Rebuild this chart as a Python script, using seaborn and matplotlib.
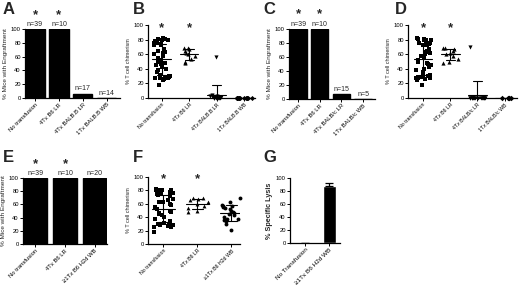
import warnings
warnings.filterwarnings("ignore")
import numpy as np
import pandas as pd
import matplotlib
matplotlib.use("Agg")
import matplotlib.pyplot as plt
import seaborn as sns

sns.set_style("ticks")
plt.rcParams['font.family'] = ['Liberation Sans', 'DejaVu Sans']
np.random.seed(3)

# ---------------- data ----------------
cats_A = ["No transfusion", "4Tx B6 LR", "4Tx BALB.B LR", "1Tx BALB.B WB"]
engraft_A = [100, 100, 6, 0]
n_A = ["n=39", "n=10", "n=17", "n=14"]

cats_C = ["No transfusion", "4Tx B6 LR", "4Tx BALB/c LR", "1Tx BALB/c WB"]
engraft_C = [100, 100, 7, 0]
n_C = ["n=39", "n=10", "n=15", "n=5"]

cats_E = ["No transfusion", "4Tx B6 LR", "\u22651Tx B6 H2d WB"]
engraft_E = [100, 100, 100]
n_E = ["n=39", "n=10", "n=20"]

chim_none = [82, 81, 81, 80, 80, 79, 78, 76, 75, 74, 73, 72, 67, 65, 63, 62, 60, 58,
             55, 52, 50, 48, 46, 45, 43, 40, 38, 35, 32, 30, 30, 29, 29, 28, 28, 27,
             26, 25, 18]
chim_b6lr = [68, 68, 67, 65, 62, 60, 57, 53, 50, 48]
chim_balbb_lr = [56, 4, 3, 3, 3, 2, 2, 2, 1, 1, 0, 0, 0, 0, 0, 0, 0]
chim_balbb_wb = [0] * 14
chim_balbc_lr = [70] + [0] * 14
chim_balbc_wb = [0] * 5
chim_h2d_wb = [69, 62, 58, 57, 56, 55, 54, 52, 50, 48, 46, 45, 43, 40, 38, 37, 36,
               35, 30, 21]

cats_G = ["No Transfusion", "\u22651Tx B6 H2d WB"]
lysis_mean = [0.5, 88]
lysis_err = [0, 5]

FS_TICK = 4.2
FS_LAB = 4.6


def fig_px(l, r, t, b):
    W, H = 520.0, 285.0
    return [l / W, 1 - b / H, (r - l) / W, (b - t) / H]


fig = plt.figure(figsize=(5.2, 2.85), dpi=100)
fig.patch.set_facecolor("white")


def style_axes(ax, ylabel, cats, fs_x=FS_TICK, fs_y=FS_LAB, bold=False):
    sns.despine(ax=ax)
    for s in ["left", "bottom"]:
        ax.spines[s].set_linewidth(0.9)
        ax.spines[s].set_color("black")
    ax.set_ylim(0, 100)
    ax.set_yticks([0, 20, 40, 60, 80, 100])
    ax.tick_params(axis="both", length=2, width=0.7, pad=1, labelsize=FS_TICK,
                   colors="black")
    ax.set_xticks(range(len(cats)))
    ax.set_xticklabels(cats, rotation=45, ha="right", rotation_mode="anchor",
                       fontsize=fs_x)
    ax.set_xlabel("")
    ax.set_ylabel(ylabel, fontsize=fs_y, labelpad=2,
                  fontweight="bold" if bold else "normal")
    ax.set_facecolor("white")


def bar_panel(rect, cats, vals, ns, stars, xlim):
    ax = fig.add_axes(fig_px(*rect))
    df = pd.DataFrame({"group": cats, "value": vals})
    sns.barplot(data=df, x="group", y="value", order=cats, color="black",
                width=0.8, saturation=1, ax=ax)
    for p in ax.patches:
        p.set_edgecolor("black")
    style_axes(ax, "% Mice with Engraftment", cats)
    ax.set_xlim(*xlim)
    for i, (v, n) in enumerate(zip(vals, ns)):
        ax.text(i, v + 2, n, ha="center", va="bottom", fontsize=5.0,
                clip_on=False)
        if stars[i]:
            ax.text(i, v + 12, "*", ha="center", va="bottom", fontsize=9.5,
                    fontweight="bold", clip_on=False)
    return ax


def scatter_panel(rect, cats, groups, markers, stars, xlim, sizes):
    ax = fig.add_axes(fig_px(*rect))
    rows = []
    for c, g in zip(cats, groups):
        rows += [(c, v) for v in g]
    df = pd.DataFrame(rows, columns=["group", "value"])
    for c, m, s in zip(cats, markers, sizes):
        sub = df[df.group == c]
        sns.stripplot(data=sub, x="group", y="value", order=cats, marker=m,
                      color="black", size=s, linewidth=0, jitter=0.31, ax=ax,
                      clip_on=False)
    for i, g in enumerate(groups):
        g = np.asarray(g, float)
        mu = g.mean()
        sd = g.std(ddof=1)
        ax.plot([i - 0.34, i + 0.34], [mu, mu], color="black", lw=0.8)
        ax.plot([i, i], [max(mu - sd, 0), mu + sd], color="black", lw=0.8)
        ax.plot([i - 0.16, i + 0.16], [mu + sd, mu + sd], color="black", lw=0.8)
        if mu - sd > 0:
            ax.plot([i - 0.16, i + 0.16], [mu - sd, mu - sd], color="black",
                    lw=0.8)
        if stars[i]:
            ax.text(i, 88, "*", ha="center", va="bottom", fontsize=9.5,
                    fontweight="bold", clip_on=False)
    style_axes(ax, "% T cell chimerism", cats, fs_x=3.8, fs_y=4.0)
    ax.set_xlim(*xlim)
    return ax


def letter(x, y, s):
    fig.text(x / 520.0, 1 - y / 285.0, s, fontsize=12, fontweight="bold",
             ha="left", va="top")


# A
bar_panel((25, 120, 29, 98), cats_A, engraft_A, n_A, [1, 1, 0, 0], (-0.42, 3.55))
# B
scatter_panel((148, 255, 25, 98), cats_A,
              [chim_none, chim_b6lr, chim_balbb_lr, chim_balbb_wb],
              ["s", "^", "v", "D"], [1, 1, 0, 0], (-0.5, 3.4),
              [3.3, 3.0, 3.0, 2.6])
# C
bar_panel((289, 375, 29, 99), cats_C, engraft_C, n_C, [1, 1, 0, 0], (-0.42, 3.55))
# D
scatter_panel((408, 517, 25, 98), cats_C,
              [chim_none, chim_b6lr, chim_balbc_lr, chim_balbc_wb],
              ["s", "^", "v", "D"], [1, 1, 0, 0], (-0.55, 3.45),
              [3.3, 3.0, 3.0, 2.8])
# E
bar_panel((23, 107, 178, 244), cats_E, engraft_E, n_E, [1, 1, 0], (-0.42, 2.42))
# F
scatter_panel((148, 240, 177, 244), cats_E,
              [chim_none, chim_b6lr, chim_h2d_wb],
              ["s", "^", "o"], [1, 1, 0], (-0.45, 2.25),
              [3.3, 2.8, 2.8])
# G
axg = fig.add_axes(fig_px(290, 340, 178, 243))
dfg = pd.DataFrame({"group": cats_G, "value": lysis_mean})
sns.barplot(data=dfg, x="group", y="value", order=cats_G, color="black",
            width=0.55, saturation=1, ax=axg)
axg.errorbar(range(len(cats_G)), lysis_mean,
             yerr=[np.zeros(len(lysis_err)), lysis_err], fmt="none",
             ecolor="black", elinewidth=0.9, capsize=3, capthick=0.9)
style_axes(axg, "% Specific Lysis", cats_G, fs_x=4.6, fs_y=5.2, bold=True)
axg.set_xlim(-0.65, 1.45)

letter(3, 2, "A")
letter(133, 2, "B")
letter(263, 2, "C")
letter(395, 2, "D")
letter(3, 150, "E")
letter(133, 150, "F")
letter(263, 150, "G")

fig.savefig("out.png", dpi=100, facecolor="white")
